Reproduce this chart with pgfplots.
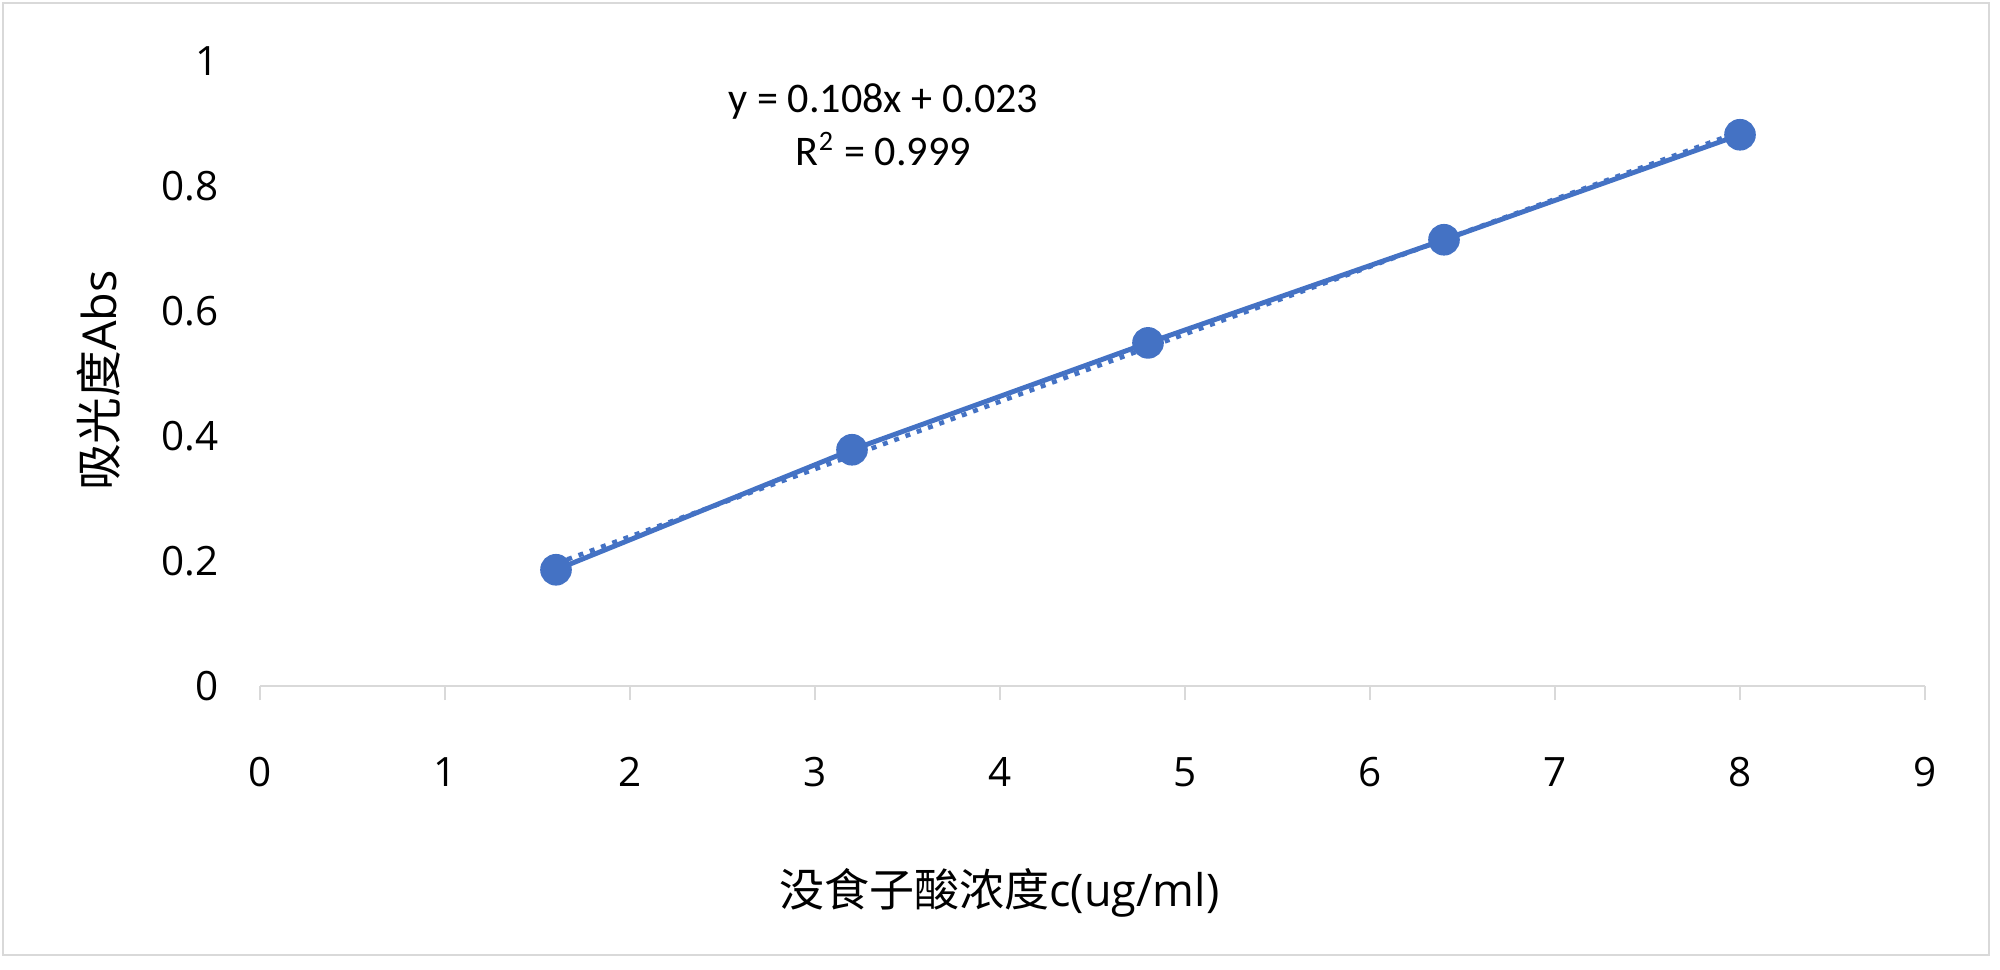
\documentclass[border=0pt]{standalone}
\usepackage{fontspec}
\setmainfont{Carlito}
\newfontfamily\opensans{Open Sans}
\newfontfamily\cjk{Noto Sans CJK SC}
\usepackage{pgfplots}
\pgfplotsset{compat=1.18}
\definecolor{exblue}{HTML}{4472C4}
\definecolor{axgray}{HTML}{D9D9D9}
\begin{document}
\begin{tikzpicture}
\begin{axis}[
  width=166.5mm, height=62.5mm, scale only axis,
  xmin=0, xmax=9, ymin=0, ymax=1,
  xtick={0,1,...,9}, ytick={0,0.2,...,1},
  /pgf/number format/assume math mode=true,
  ticklabel style={font=\opensans\fontsize{11.5}{13}\selectfont},
  axis x line=bottom, axis y line=left,
  x axis line style={draw=axgray, line width=0.8pt, -},
  y axis line style={draw=none},
  xtick style={draw=axgray, line width=0.8pt},
  tick align=outside, major tick length=1.4mm,
  xticklabel style={yshift=-4.5mm},
  yticklabel style={xshift=-1.5mm},
  ytick style={draw=none},
  xlabel={{\cjk 没食子酸浓度}c(ug/ml)},
  ylabel={{\cjk 吸光度}Abs},
  label style={font=\opensans\fontsize{12.8}{15}\selectfont},
  xlabel style={at={(rel axis cs:0.5,0)}, anchor=center, yshift=-20.7mm, xshift=-9.3mm},
  ylabel style={at={(rel axis cs:0,0.5)}, anchor=center, yshift=16.1mm, xshift=-0.7mm,
    font=\opensans\fontsize{13.3}{15}\selectfont},
  clip=false,
]
% trendline (dotted), endpoints from y = 0.108x + 0.023
\addplot[exblue, line width=1.3pt, dash pattern=on 0.5mm off 0.7mm, forget plot]
  coordinates {(1.6,0.196) (8.0,0.887)};
\addplot[exblue, line width=1.4pt, mark=*, mark size=3.8pt,
  mark options={fill=exblue, draw=exblue}]
  coordinates {(1.6,0.186) (3.2,0.378) (4.8,0.549) (6.4,0.714) (8.0,0.882)};
\node[font=\fontsize{12}{15}\selectfont, align=center] at (axis cs:3.37,0.898)
  {y = 0.108x + 0.023\\R\textsuperscript{2} = 0.999};
\coordinate (sw) at (rel axis cs:0,0);
\coordinate (ne) at (rel axis cs:1,1);
\end{axis}
\draw[axgray, line width=0.6pt] ([shift={(-25.7mm,-26.9mm)}]sw) rectangle ([shift={(6.4mm,5.8mm)}]ne);
\useasboundingbox ([shift={(-26.0mm,-28.3mm)}]sw) rectangle ([shift={(7.5mm,6.1mm)}]ne);
\end{tikzpicture}
\end{document}
